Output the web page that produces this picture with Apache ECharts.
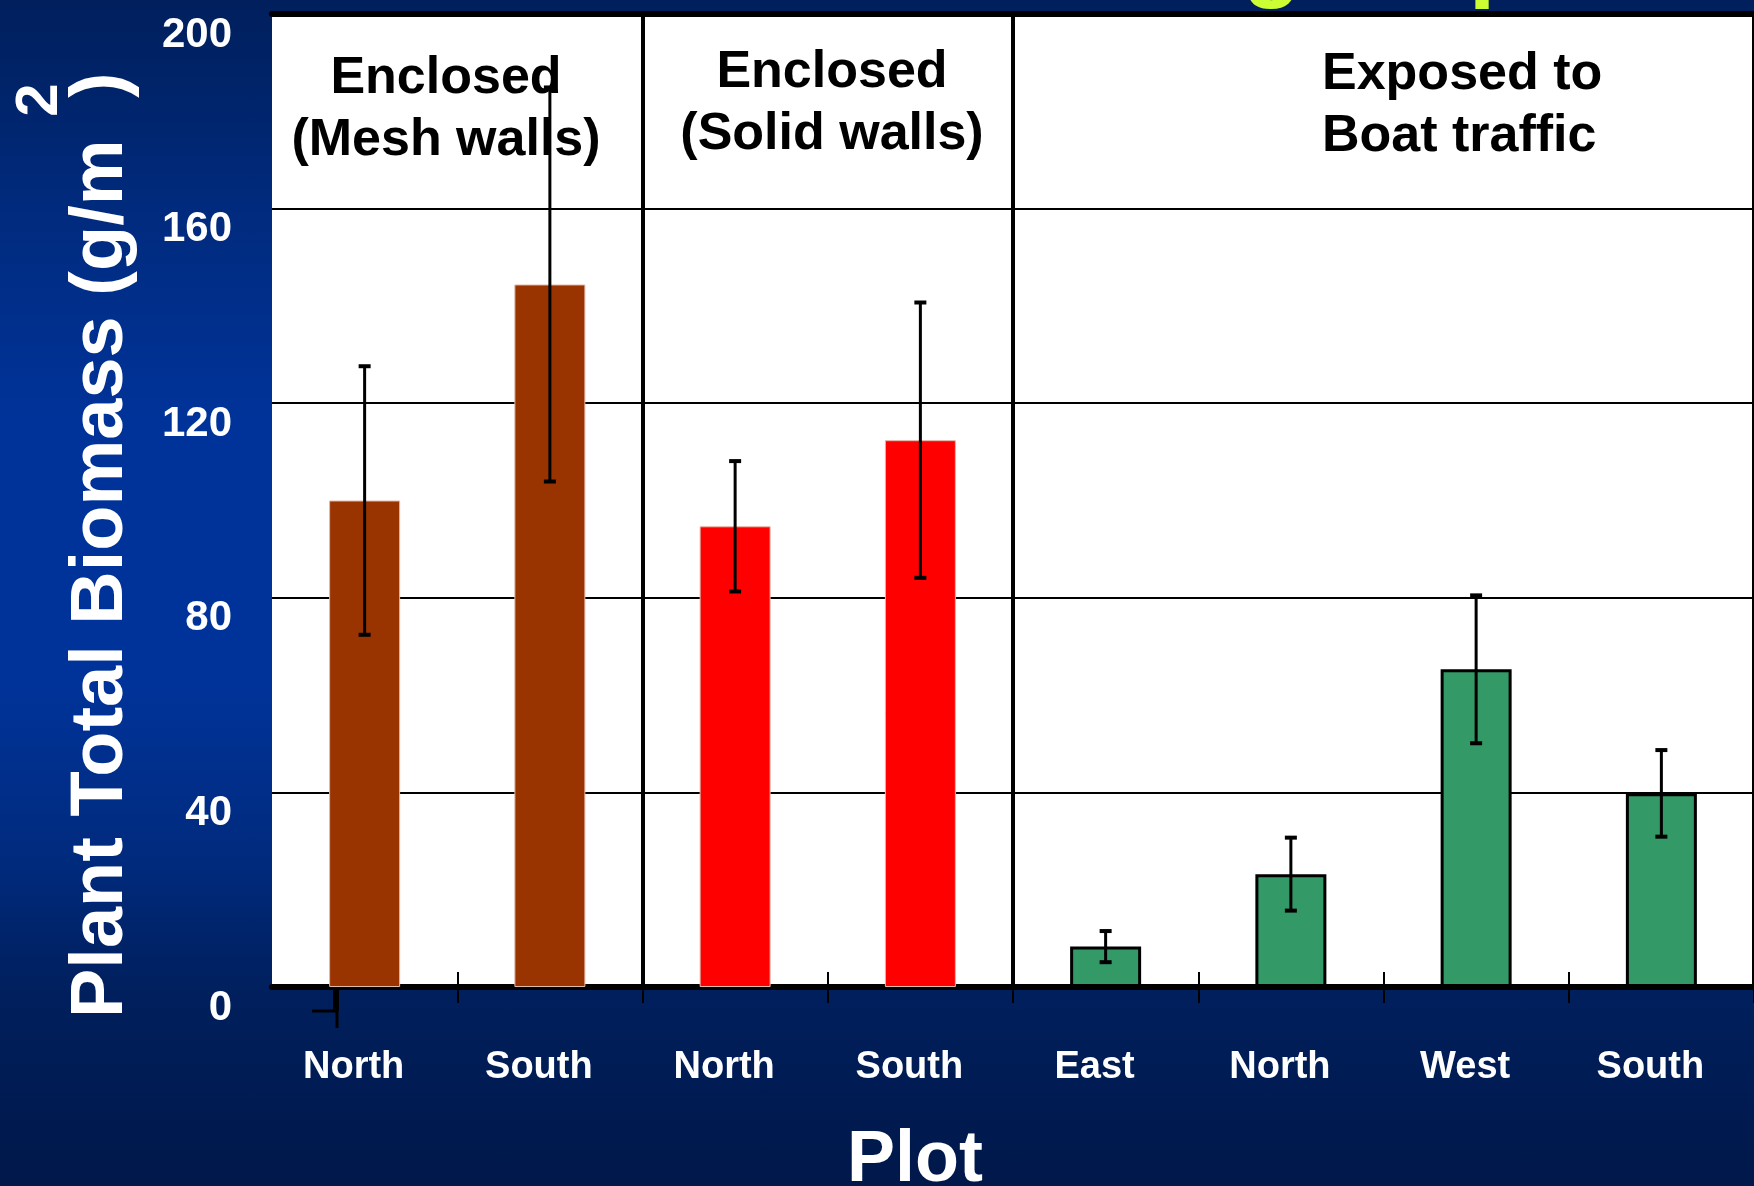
<!DOCTYPE html>
<html>
<head>
<meta charset="utf-8">
<script src="https://cdn.jsdelivr.net/npm/echarts@6/dist/echarts.min.js"></script>
<style>
  html, body { margin: 0; padding: 0; }
  #chart {
    width: 1754px; height: 1186px;
    background: linear-gradient(to bottom, #001f5c 0%, #002a7c 17%, #003399 35%, #003399 58%, #002a7c 73%, #001f5c 84%, #00184a 100%);
  }
</style>
</head>
<body>
<div id="chart"></div>
<script>
// ---- data ----
const categories = ['North', 'South', 'North', 'South', 'East', 'North', 'West', 'South'];
const biomass = [100, 144.4, 94.7, 112.4, 8.3, 23.2, 65.3, 39.8];
const errors = [27.6, 40.5, 13.4, 28.3, 3.2, 7.5, 15.2, 8.9];
const groupOfBar = [0, 0, 1, 1, 2, 2, 2, 2];
const groupLabels = ['Enclosed\n(Mesh walls)', 'Enclosed\n(Solid walls)', 'Exposed to\nBoat traffic'];
const groupColors = ['#993300', '#FF0000', '#339966'];
const yTicks = [0, 40, 80, 120, 160, 200];
const yAxisTitle = 'Plant Total Biomass (g/m';
const xAxisTitle = 'Plot';

const FONT = '"Liberation Sans", Arial, Helvetica, sans-serif';
const chart = echarts.init(document.getElementById('chart'), null, { renderer: 'canvas' });

const barData = biomass.map((v, i) => {
  const g = groupOfBar[i];
  return {
    value: v,
    itemStyle: g === 2
      ? { color: groupColors[g], borderColor: '#000000', borderWidth: 3 }
      : { color: groupColors[g], borderColor: '#e2b8a8', borderWidth: 1 }
  };
});
const errData = biomass.map((v, i) => [i, v, errors[i]]);
const dividerIdx = [];
groupOfBar.forEach((g, i) => { if (i > 0 && g !== groupOfBar[i - 1]) dividerIdx.push(i); });

const option = {
  backgroundColor: 'transparent',
  animation: false,
  grid: { left: 272, right: 0, top: 14, bottom: 199, show: true, backgroundColor: '#ffffff', borderWidth: 0, containLabel: false, outerBoundsMode: 'none' },
  xAxis: [
    {
      type: 'category', data: categories, position: 'bottom',
      axisLine: { show: true, lineStyle: { color: '#000', width: 6 } },
      axisTick: { show: true, interval: (i) => i > 0, length: 16, lineStyle: { color: '#000', width: 2 } },
      axisLabel: { show: true, interval: 0, color: '#ffffff', fontFamily: FONT, fontWeight: 'bold', fontSize: 38, margin: 62, padding: [0, 22, 0, 0] },
      splitLine: { show: true, interval: (i) => dividerIdx.indexOf(i) >= 0, lineStyle: { color: '#000', width: 4 } },
      name: xAxisTitle, nameLocation: 'middle', nameGap: 174,
      nameTextStyle: { color: '#ffffff', fontFamily: FONT, fontWeight: 'bold', fontSize: 72, verticalAlign: 'middle', padding: [0, 196, 0, 0] }
    },
    {
      type: 'category', data: categories, position: 'bottom',
      axisLine: { show: false },
      axisTick: { show: true, inside: true, interval: (i) => i > 0, length: 15, lineStyle: { color: '#000', width: 2 } },
      axisLabel: { show: false }, splitLine: { show: false }
    },
    {
      type: 'category', data: categories, position: 'top',
      axisLine: { show: true, lineStyle: { color: '#000', width: 6 } },
      axisTick: { show: false }, axisLabel: { show: false }, splitLine: { show: false }
    }
  ],
  yAxis: {
    type: 'value', min: yTicks[0], max: yTicks[yTicks.length - 1], interval: yTicks[1] - yTicks[0],
    axisLine: { show: false }, axisTick: { show: false },
    axisLabel: { color: '#ffffff', fontFamily: FONT, fontWeight: 'bold', fontSize: 42, margin: 40, verticalAlign: 'top' },
    splitLine: { show: true, lineStyle: { color: '#000', width: 2 } }
  },
  series: [
    { type: 'bar', data: barData, barWidth: 71, z: 3, xAxisIndex: 0, yAxisIndex: 0 },
    {
      type: 'custom', data: errData, z: 4, xAxisIndex: 0, yAxisIndex: 0,
      encode: { x: 0, y: 1 },
      renderItem: function (params, api) {
        const x = api.value(0), v = api.value(1), e = api.value(2);
        const t = api.coord([x, v + e]);
        const b = api.coord([x, v - e]);
        const cw = 6;
        const st = { stroke: '#000', lineWidth: 3 };
        const cs = { stroke: '#000', lineWidth: 4 };
        return {
          type: 'group', children: [
            { type: 'line', shape: { x1: t[0], y1: t[1], x2: b[0], y2: b[1] }, style: st },
            { type: 'line', shape: { x1: t[0] - cw, y1: t[1], x2: t[0] + cw, y2: t[1] }, style: cs },
            { type: 'line', shape: { x1: b[0] - cw, y1: b[1], x2: b[0] + cw, y2: b[1] }, style: cs }
          ]
        };
      }
    }
  ],
  graphic: [
    // group headings
    { type: 'text', x: 446, y: 110, z: 10, style: { text: groupLabels[0], fill: '#000', font: 'bold 52px ' + FONT, align: 'center', verticalAlign: 'middle', lineHeight: 62 } },
    { type: 'text', x: 832, y: 104, z: 10, style: { text: groupLabels[1], fill: '#000', font: 'bold 52px ' + FONT, align: 'center', verticalAlign: 'middle', lineHeight: 62 } },
    { type: 'text', x: 1322, y: 106, z: 10, style: { text: groupLabels[2], fill: '#000', font: 'bold 52px ' + FONT, align: 'left', verticalAlign: 'middle', lineHeight: 62 } },
    // y axis title (rotated) with superscript
    { type: 'text', x: 102, y: 1018, rotation: Math.PI / 2, z: 10, style: { text: yAxisTitle, fill: '#fff', font: 'bold 74px ' + FONT, align: 'left', verticalAlign: 'middle' } },
    { type: 'text', x: 40, y: 100, rotation: Math.PI / 2, z: 10, style: { text: '2', fill: '#fff', font: 'bold 60px ' + FONT, align: 'center', verticalAlign: 'middle' } },
    { type: 'text', x: 102, y: 85, rotation: Math.PI / 2, z: 10, style: { text: ')', fill: '#fff', font: 'bold 76px ' + FONT, align: 'center', verticalAlign: 'middle' } },
    // cut-off title glyph fragments at top
    { type: 'text', x: 1272, y: 11, z: 1, style: { text: 'g', fill: '#ccff33', font: 'bold 96px ' + FONT, align: 'center', verticalAlign: 'bottom' } },
    { type: 'text', x: 1498, y: 11, z: 1, style: { text: 'p', fill: '#ccff33', font: 'bold 96px ' + FONT, align: 'center', verticalAlign: 'bottom' } },
    // stray tick mark near origin
    { type: 'line', z: 10, shape: { x1: 336, y1: 990, x2: 336, y2: 1011 }, style: { stroke: '#000', lineWidth: 6 } },
    { type: 'line', z: 10, shape: { x1: 337, y1: 1010, x2: 337, y2: 1028 }, style: { stroke: '#000', lineWidth: 3 } },
    { type: 'line', z: 10, shape: { x1: 312, y1: 1011, x2: 336, y2: 1011 }, style: { stroke: '#000', lineWidth: 3 } }
  ]
};
chart.setOption(option);
</script>
</body>
</html>
